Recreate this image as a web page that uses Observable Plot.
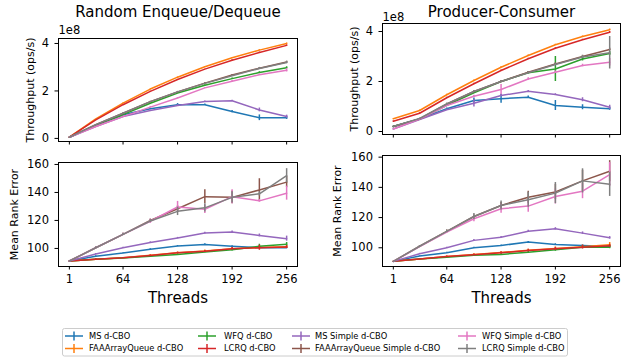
<!DOCTYPE html>
<html><head><meta charset="utf-8">
<script src="https://cdn.jsdelivr.net/npm/d3@7"></script>
<script src="https://cdn.jsdelivr.net/npm/@observablehq/plot@0.6"></script>
<style>
html,body{margin:0;padding:0;background:#fff;}
#chart{position:relative;width:621px;height:362px;overflow:hidden;font-family:"DejaVu Sans",sans-serif;background:#fff;}
#chart > *{position:absolute;}
</style></head><body><div id="chart"></div>
<script>
const threads = [1, 32, 64, 96, 128, 160, 192, 224, 256];
const xTickValues = [1, 64, 128, 192, 256];
const seriesNames = ["MS d-CBO", "FAAArrayQueue d-CBO", "WFQ d-CBO", "LCRQ d-CBO",
  "MS Simple d-CBO", "FAAArrayQueue Simple d-CBO", "WFQ Simple d-CBO", "LCRQ Simple d-CBO"];
const seriesColors = ["#1f77b4", "#ff7f0e", "#2ca02c", "#d62728", "#9467bd", "#8c564b", "#e377c2", "#7f7f7f"];

// Random Enqueue/Dequeue throughput (x 1e8 ops/s)
const randThroughput = [
  [0.05, 0.55, 1.00, 1.25, 1.42, 1.42, 1.13, 0.87, 0.87],
  [0.05, 0.82, 1.49, 2.08, 2.58, 3.02, 3.40, 3.72, 4.00],
  [0.05, 0.55, 1.00, 1.48, 1.91, 2.24, 2.52, 2.78, 2.98],
  [0.05, 0.78, 1.42, 1.98, 2.48, 2.92, 3.29, 3.62, 3.92],
  [0.05, 0.50, 0.92, 1.18, 1.39, 1.56, 1.59, 1.20, 0.92],
  [0.05, 0.58, 1.06, 1.55, 1.96, 2.33, 2.67, 2.96, 3.22],
  [0.05, 0.50, 0.92, 1.32, 1.70, 2.13, 2.41, 2.68, 2.87],
  [0.05, 0.58, 1.06, 1.55, 1.96, 2.32, 2.64, 2.95, 3.20]
];
const randThroughputErr = [
  [0, 0, 0.01, 0.02, 0.05, 0.03, 0.05, 0.12, 0.07],
  [0, 0, 0.01, 0.01, 0.01, 0.01, 0.01, 0.02, 0.02],
  [0, 0, 0.01, 0.01, 0.02, 0.02, 0.03, 0.03, 0.04],
  [0, 0, 0.01, 0.01, 0.01, 0.01, 0.02, 0.02, 0.02],
  [0, 0, 0.01, 0.01, 0.03, 0.02, 0.02, 0.08, 0.06],
  [0, 0, 0.01, 0.01, 0.02, 0.02, 0.02, 0.03, 0.03],
  [0, 0, 0.01, 0.02, 0.02, 0.02, 0.03, 0.03, 0.07],
  [0, 0, 0.01, 0.01, 0.02, 0.02, 0.02, 0.04, 0.05]
];

// Producer-Consumer throughput (x 1e8 ops/s)
const prodThroughput = [
  [0.20, 0.50, 0.91, 1.24, 1.31, 1.37, 1.04, 0.97, 0.91],
  [0.51, 0.84, 1.47, 2.04, 2.57, 3.04, 3.47, 3.80, 4.07],
  [0.20, 0.50, 1.05, 1.55, 2.00, 2.35, 2.50, 2.90, 3.12],
  [0.41, 0.73, 1.35, 1.91, 2.44, 2.91, 3.33, 3.67, 3.97],
  [0.10, 0.48, 0.87, 1.13, 1.44, 1.61, 1.48, 1.27, 0.97],
  [0.20, 0.50, 1.10, 1.60, 2.00, 2.37, 2.70, 3.00, 3.28],
  [0.10, 0.50, 1.04, 1.41, 1.68, 2.10, 2.37, 2.64, 2.77],
  [0.20, 0.52, 1.10, 1.60, 2.00, 2.35, 2.68, 2.98, 3.15]
];
const prodThroughputErr = [
  [0.01, 0.02, 0.03, 0.10, 0.18, 0.05, 0.20, 0.10, 0.06],
  [0.01, 0.02, 0.02, 0.02, 0.02, 0.02, 0.02, 0.02, 0.03],
  [0.01, 0.02, 0.03, 0.03, 0.03, 0.05, 0.50, 0.08, 0.08],
  [0.01, 0.02, 0.02, 0.02, 0.02, 0.02, 0.02, 0.02, 0.03],
  [0.01, 0.02, 0.03, 0.15, 0.04, 0.03, 0.03, 0.08, 0.08],
  [0.01, 0.02, 0.03, 0.03, 0.03, 0.03, 0.04, 0.05, 0.05],
  [0.01, 0.02, 0.03, 0.04, 0.20, 0.05, 0.05, 0.05, 0.15],
  [0.01, 0.02, 0.03, 0.03, 0.03, 0.04, 0.05, 0.06, 0.65]
];

// Random Enqueue/Dequeue mean rank error
const randRank = [
  [91, 94.5, 96.7, 99.5, 101.7, 102.9, 101.5, 100.5, 100.5],
  [91, 92.2, 93.3, 95.2, 96.9, 98.2, 99.8, 100.6, 101.2],
  [91, 92.2, 93.2, 94.5, 95.7, 97.5, 99.0, 101.5, 103.0],
  [91, 92.2, 93.3, 95.0, 96.9, 98.0, 99.8, 100.5, 101.0],
  [91, 96.0, 100.5, 104.2, 107.4, 111.0, 111.7, 109.3, 107.0],
  [91, 100.5, 110.0, 120.0, 128.4, 137.0, 136.5, 141.8, 147.4],
  [91, 100.5, 110.0, 119.4, 129.6, 128.0, 137.0, 134.0, 139.5],
  [91, 100.5, 110.0, 119.6, 126.5, 129.0, 136.5, 139.0, 152.0]
];
const randRankErr = [
  [0, 0.2, 0.3, 0.3, 0.4, 0.4, 0.5, 0.5, 0.5],
  [0, 0.2, 0.3, 0.3, 0.5, 0.6, 0.8, 1.0, 1.0],
  [0, 0.2, 0.3, 0.3, 0.5, 0.6, 0.8, 1.5, 1.2],
  [0, 0.2, 0.3, 0.3, 0.5, 0.6, 0.8, 1.8, 1.0],
  [0, 0.3, 0.4, 0.5, 0.5, 0.6, 0.7, 1.0, 1.8],
  [0, 0.5, 0.8, 1.0, 2.0, 5.0, 4.5, 8.0, 4.0],
  [0, 0.5, 0.8, 1.5, 4.0, 3.0, 5.0, 1.0, 5.0],
  [0, 0.5, 0.8, 1.0, 3.0, 3.0, 4.0, 1.5, 5.0]
];

// Producer-Consumer mean rank error
const prodRank = [
  [91, 94.5, 96.7, 100.0, 101.5, 103.8, 102.2, 101.5, 100.9],
  [91, 92.5, 94.3, 95.5, 96.8, 98.3, 99.5, 100.7, 102.0],
  [91, 92.5, 93.8, 95.0, 95.6, 97.1, 98.7, 100.4, 100.4],
  [91, 92.5, 94.3, 95.4, 96.7, 98.2, 99.3, 100.4, 101.3],
  [91, 96.0, 100.0, 104.9, 107.0, 111.0, 112.6, 109.7, 106.6],
  [91, 101.0, 110.9, 120.7, 128.0, 133.5, 137.0, 144.3, 150.7],
  [91, 100.7, 110.4, 119.2, 125.8, 127.6, 134.0, 137.5, 148.5],
  [91, 101.0, 110.9, 120.7, 128.0, 131.8, 136.2, 144.3, 142.0]
];
const prodRankErr = [
  [0, 0.2, 0.3, 0.3, 0.4, 0.4, 0.5, 0.5, 0.5],
  [0, 0.2, 0.3, 0.5, 0.6, 0.8, 1.0, 1.0, 1.5],
  [0, 0.2, 0.3, 0.5, 0.6, 0.8, 1.0, 1.0, 1.0],
  [0, 0.2, 0.3, 0.5, 0.6, 0.8, 1.0, 1.2, 1.0],
  [0, 0.3, 0.4, 0.5, 0.5, 0.6, 0.7, 0.8, 0.8],
  [0, 0.5, 0.8, 1.0, 2.0, 4.0, 5.0, 7.0, 7.0],
  [0, 0.5, 0.8, 2.0, 3.0, 4.0, 5.0, 5.0, 8.0],
  [0, 0.5, 0.8, 2.0, 3.0, 5.0, 7.0, 8.0, 8.0]
];

const chart = document.getElementById("chart");

function panel(cfg) {
  const rows = [];
  seriesNames.forEach((s, i) => threads.forEach((t, j) =>
    rows.push({s, t, v: cfg.values[i][j], e: cfg.errs[i][j]})));
  const marks = [];
  seriesNames.forEach((s) => {
    const d = rows.filter(r => r.s === s);
    marks.push(Plot.ruleX(d.filter(r => r.e > 0), {x: "t", y1: r => r.v - r.e, y2: r => r.v + r.e, stroke: "s", strokeWidth: 1.5}));
    marks.push(Plot.line(d, {x: "t", y: "v", stroke: "s", strokeWidth: 1.5}));
  });
  marks.push(Plot.frame({stroke: "black", strokeWidth: 1}));
  const txt = {textAnchor: "middle", lineAnchor: "middle", fill: "black", text: d => d};
  if (cfg.title) marks.push(Plot.text([cfg.title], {...txt, frameAnchor: "top", dy: cfg.titleDy, fontSize: 15}));
  if (cfg.offset) marks.push(Plot.text([cfg.offset], {...txt, frameAnchor: "top-left", dy: cfg.offsetDy, textAnchor: "start", fontSize: 11.5}));
  marks.push(Plot.text([cfg.yLabel], {...txt, frameAnchor: "left", dx: cfg.yLabelDx, rotate: -90, fontSize: 11}));
  if (cfg.xLabel) marks.push(Plot.text([cfg.xLabel], {...txt, frameAnchor: "bottom", dy: 32, fontSize: 15}));
  const svg = Plot.plot({
    width: cfg.width, height: cfg.height,
    marginLeft: cfg.ml, marginRight: cfg.mr, marginTop: cfg.mt, marginBottom: cfg.mb,
    style: {background: "transparent", fontFamily: "'DejaVu Sans', sans-serif", fontSize: "11.5px", color: "black", overflow: "visible"},
    x: {domain: [-11.75, 268.75], ticks: xTickValues, tickSize: 3.5, tickPadding: 5,
        tickFormat: cfg.showX ? (d => String(d)) : (() => ""), label: null},
    y: {domain: cfg.yDomain, ticks: cfg.yTicks, tickSize: 3.5, tickPadding: 6, tickFormat: d => String(d), label: null},
    color: {domain: seriesNames, range: seriesColors},
    marks
  });
  svg.style.left = cfg.left + "px";
  svg.style.top = cfg.top + "px";
  chart.appendChild(svg);
}

panel({values: randThroughput, errs: randThroughputErr, left: 0, top: 0, width: 310, height: 147,
  ml: 58, mr: 13, mt: 38, mb: 6, yDomain: [-0.13, 4.21], yTicks: [0, 2, 4], showX: false,
  title: "Random Enqueue/Dequeue", titleDy: -26, offset: "1e8", offsetDy: -8,
  yLabel: "Throughput (ops/s)", yLabelDx: -28});
panel({values: prodThroughput, errs: prodThroughputErr, left: 310, top: 0, width: 311, height: 147,
  ml: 72, mr: 1, mt: 23, mb: 13, yDomain: [-0.12, 4.32], yTicks: [0, 2, 4], showX: false,
  title: "Producer-Consumer", titleDy: -11.5, offset: "1e8", offsetDy: -6.5,
  yLabel: "Throughput (ops/s)", yLabelDx: -28});
panel({values: randRank, errs: randRankErr, left: 0, top: 147, width: 310, height: 163,
  ml: 58, mr: 13, mt: 15, mb: 44, yDomain: [87.1, 161.4], yTicks: [100, 120, 140, 160], showX: true,
  yLabel: "Mean Rank Error", yLabelDx: -44, xLabel: "Threads"});
panel({values: prodRank, errs: prodRankErr, left: 310, top: 147, width: 311, height: 163,
  ml: 72, mr: 1, mt: 8, mb: 44, yDomain: [87.6, 161.1], yTicks: [100, 120, 140, 160], showX: true,
  yLabel: "Mean Rank Error", yLabelDx: -45, xLabel: "Threads"});

// Legend
const lg = d3.select(chart).append("svg")
  .attr("width", 621).attr("height", 42)
  .style("left", "0px").style("top", "320px")
  .style("font-family", "'DejaVu Sans', sans-serif");
lg.append("rect").attr("x", 62.5).attr("y", 8.5).attr("width", 505).attr("height", 27.5)
  .attr("rx", 2).attr("fill", "white").attr("stroke", "#cccccc").attr("stroke-width", 1);
const markerX = [65, 198, 292, 458];
const textX = [89, 224, 315, 482];
const rowY = [16, 28.5];
seriesNames.forEach((s, i) => {
  const col = Math.floor(i / 2), row = i % 2;
  const mx = markerX[col], y = rowY[row], c = seriesColors[i];
  lg.append("line").attr("x1", mx).attr("x2", mx + 18).attr("y1", y).attr("y2", y).attr("stroke", c).attr("stroke-width", 1.5);
  lg.append("line").attr("x1", mx + 9).attr("x2", mx + 9).attr("y1", y - 4.5).attr("y2", y + 4.5).attr("stroke", c).attr("stroke-width", 1.5);
  lg.append("text").attr("x", textX[col]).attr("y", y).attr("dy", "0.35em")
    .attr("font-size", "8.3px").attr("fill", "black").text(s);
});
</script></body></html>
